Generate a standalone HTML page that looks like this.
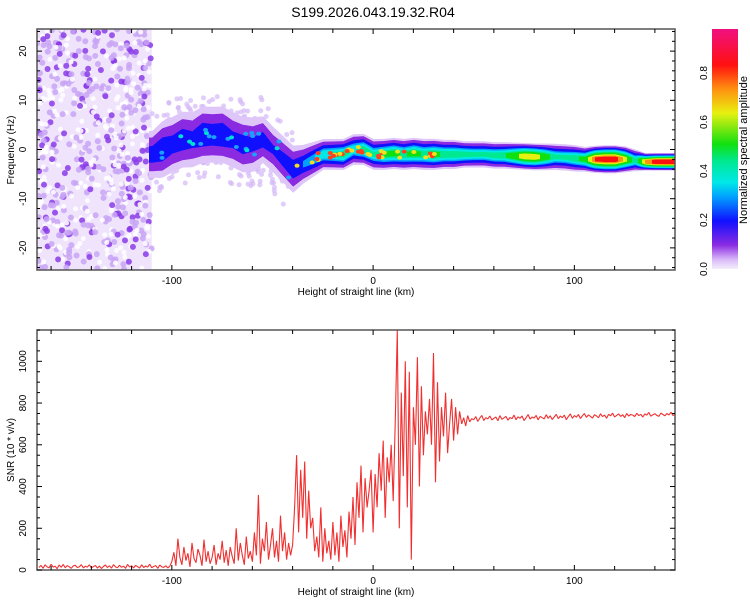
<!DOCTYPE html>
<html><head><meta charset="utf-8"><style>
body{margin:0;background:#fff;font-family:"Liberation Sans",sans-serif}
svg text{font-family:"Liberation Sans",sans-serif;fill:#000}
</style></head><body>
<svg id="c" width="750" height="600" xmlns="http://www.w3.org/2000/svg">
<text x="373" y="17" font-size="14" text-anchor="middle">S199.2026.043.19.32.R04</text>
<defs>
<linearGradient id="cb" x1="0" y1="1" x2="0" y2="0">
<stop offset="0" stop-color="#f4eefc"/><stop offset="0.04" stop-color="#d8b8f8"/>
<stop offset="0.1" stop-color="#8a2be2"/><stop offset="0.2" stop-color="#1010ff"/>
<stop offset="0.3" stop-color="#00a0ff"/><stop offset="0.36" stop-color="#00e8e8"/>
<stop offset="0.45" stop-color="#00e890"/><stop offset="0.52" stop-color="#10e010"/>
<stop offset="0.65" stop-color="#e8f010"/><stop offset="0.75" stop-color="#ff9010"/>
<stop offset="0.85" stop-color="#ff1010"/><stop offset="1" stop-color="#f01080"/>
</linearGradient>
<clipPath id="clipTop"><rect x="37" y="29" width="638" height="241"/></clipPath>
<clipPath id="clipBot"><rect x="37" y="330" width="638" height="240"/></clipPath>
</defs>
<g id="topPanel"></g>
<g id="botPanel"></g>
<g id="cbar">
<rect x="712" y="29" width="26" height="240" fill="url(#cb)"/>
<text transform="translate(747,150) rotate(-90)" font-size="11" text-anchor="middle">Normalized spectral amplitude</text>
</g>
</svg>
<script>
const NS="http://www.w3.org/2000/svg";
// ---- data ----
const ridgeKm=[-110,-105,-100,-95,-90,-85,-80,-75,-70,-65,-60,-55,-50,-45,-40,-35,-30,-25,-20,-15,-10,-5,0,5,10,15,20,25,30,35,40,45,50,55,60,65,70,75,80,85,90,95,100,105,110,115,120,125,130,135,140,145,150];
const ridgeFreq=[-1,0,1,2,2,3,3,3,2,1,1,2,0,-2,-4,-3,-2,-1,-1,-1,0,0,-1,-1,-0.8,-1,-0.8,-1,-1,-1,-1,-1,-1,-1,-1.2,-1.2,-1.3,-1.4,-1.5,-1.5,-1.5,-1.6,-1.8,-2,-2,-2,-2,-2,-2.2,-2.5,-2.5,-2.5,-2.5];
const ridgeAmp=[0.26,0.3,0.25,0.28,0.24,0.3,0.28,0.3,0.24,0.26,0.22,0.25,0.2,0.24,0.28,0.3,0.35,0.42,0.45,0.5,0.42,0.5,0.45,0.52,0.55,0.5,0.56,0.5,0.55,0.5,0.5,0.48,0.45,0.45,0.48,0.5,0.6,0.72,0.72,0.6,0.45,0.45,0.5,0.55,0.85,0.92,0.92,0.7,0.45,0.75,0.9,0.92,0.92];
const ridgeSpread=[5,6,6,6,6,6,6,6,6,6,6,5,5,5,5,4,3.5,3,3,3,3,3,3,3,3,3,3,3,3,2.8,2.8,2.5,2.5,2.5,2.5,2.5,2.5,2.5,2.5,2.5,2.5,2.5,2.5,2.3,2.5,2.6,2.6,2.4,2,1.5,1.5,1.5,1.5];
const snrStart=-166, snrStep=1;
const snrVals=[12,22,8,25,15,10,28,14,18,6,24,13,27,11,21,16,8,19,23,12,15,26,10,18,14,25,11,16,22,9,19,7,17,24,12,20,9,26,15,11,23,13,18,8,27,14,20,10,22,16,9,25,12,19,14,28,11,17,21,8,24,15,13,20,10,18,
40,85,20,150,60,25,110,45,80,15,130,55,35,100,70,20,145,40,90,30,60,120,25,80,50,140,35,95,20,110,65,30,200,45,130,70,25,160,55,90,
40,180,70,360,30,150,90,230,50,120,200,60,140,40,260,90,180,50,130,70,
120,300,550,180,480,250,520,150,380,200,
250,90,160,60,300,40,200,80,140,50,230,70,180,40,260,110,190,60,280,150,
350,120,420,250,500,180,440,300,380,480,
180,460,300,560,380,620,250,540,420,600,330,700,
1150,200,850,450,1000,300,950,50,780,600,1020,400,880,550,760,650,820,600,1040,420,900,520,780,640,850,560,700,820,620,780,650,760,700,730,690,740,710,725,
720,735,712,728,741,716,730,724,738,719,727,733,715,740,722,729,736,718,731,725,742,720,734,727,738,716,730,745,723,733,728,741,719,736,730,724,744,727,739,721,733,746,725,738,730,742,720,735,748,727,740,732,745,726,739,750,731,743,736,728,744,738,730,749,735,742,727,746,739,752,733,741,748,736,744,730,750,738,745,742,735,751,740,746,733,748,742,755,737,744,749,741,736,752,745,739,750,743,756,740,747];
const xTicks=[-100,0,100];
const freqTicks=[-20,-10,0,10,20];
const snrTicks=[0,200,400,600,800,1000];
const cbTicks=[0,0.2,0.4,0.6,0.8];
// ---- axes ----
const X0=37,X1=675,KM0=-167,KM1=150;
const xs=k=>X0+(k-KM0)/(KM1-KM0)*(X1-X0);
const TY0=29,TY1=270,F0=-24.5,F1=24.5;
const yf=f=>TY1-(f-F0)/(F1-F0)*(TY1-TY0);
const BY0=330,BY1=570,S1=1150;
const ys=v=>BY1-v/S1*(BY1-BY0);
const cby=v=>269-v*245;
function el(t,a,p){const e=document.createElementNS(NS,t);for(const k in a)e.setAttribute(k,a[k]);p.appendChild(e);return e;}
function cmap(v){const s=[[0,[244,238,252]],[0.04,[216,184,248]],[0.1,[138,43,226]],[0.2,[16,16,255]],[0.3,[0,160,255]],[0.36,[0,232,232]],[0.45,[0,232,144]],[0.52,[16,224,16]],[0.65,[232,240,16]],[0.75,[255,144,16]],[0.85,[255,16,16]],[1,[240,16,128]]];
for(let i=1;i<s.length;i++){if(v<=s[i][0]){const t=(v-s[i-1][0])/(s[i][0]-s[i-1][0]);const a=s[i-1][1],b=s[i][1];return`rgb(${a.map((x,j)=>Math.round(x+(b[j]-x)*t)).join(',')})`;}}return'rgb(240,16,128)';}
function interp(arr,k){if(k<=ridgeKm[0])return arr[0];for(let i=1;i<ridgeKm.length;i++){if(k<=ridgeKm[i]){const t=(k-ridgeKm[i-1])/(ridgeKm[i]-ridgeKm[i-1]);return arr[i-1]+(arr[i]-arr[i-1])*t;}}return arr[arr.length-1];}
const topG=document.getElementById('topPanel'),botG=document.getElementById('botPanel');
// spectrogram
const sg=el('g',{'clip-path':'url(#clipTop)'},topG);


// left noise region texture
el('rect',{x:X0,y:TY0,width:xs(-110)-X0,height:TY1-TY0,fill:'#efe4fc'},sg);
let h=7;
function nxt(){h=(h*16807)%2147483647;return h;}
for(let i=0;i<650;i++){const px=X0+(nxt()%1000)/1000*(xs(-110)-X0);const py=TY0+(nxt()%1000)/1000*(TY1-TY0);const q=nxt()%10;
el('circle',{cx:px,cy:py,r:q<2?3:(q<6?3:2.5),fill:q<2?'#8a3be8':(q<6?'#c8a4f4':'#ffffff'),opacity:0.85},sg);}
// middle scatter halo
for(let i=0;i<220;i++){const k=-110+(nxt()%1000)/1000*70;const f=interp(ridgeFreq,k)+((nxt()%1000)/1000-0.5)*18;
el('circle',{cx:xs(k),cy:yf(f),r:2.5,fill:'#d4b8f6',opacity:0.7},sg);}
const levels=[0.03,0.1,0.2,0.3,0.36,0.45,0.52,0.65,0.75,0.85,0.95];
for(let px=Math.floor(xs(-111));px<X1;px++){const k=KM0+(px-X0)/(X1-X0)*(KM1-KM0);
const f=interp(ridgeFreq,k),a=interp(ridgeAmp,k),sp=interp(ridgeSpread,k);
for(const l of levels){if(l>a)break;const hh=sp*Math.pow(1-l/(a+0.04),1.2)+0.35;
el('rect',{x:px,y:yf(f+hh),width:1.2,height:yf(f-hh)-yf(f+hh),fill:cmap(l)},sg);}}
// spots in the blobby region
for(let i=0;i<60;i++){const k=-108+(nxt()%1000)/1000*150;const f=interp(ridgeFreq,k)+((nxt()%1000)/1000-0.5)*(k<-40?6:1.5);const q=nxt()%3;
el('ellipse',{cx:xs(k),cy:yf(f),rx:2.5,ry:2,fill:k<-40?(q?'#1aa0ff':'#00e0d0'):(q?'#f0e020':'#ff4020')},sg);}
// top frame + ticks
el('rect',{x:X0,y:TY0,width:X1-X0,height:TY1-TY0,fill:'none',stroke:'#555','stroke-width':1.5},topG);
for(let k=-160;k<=150;k+=20){const big=k%100===0;el('line',{x1:xs(k),x2:xs(k),y1:TY1,y2:TY1-(big?5:4),stroke:'#000'},topG);el('line',{x1:xs(k),x2:xs(k),y1:TY0,y2:TY0+(big?5:4),stroke:'#000'},topG);}
for(let f=-24;f<=24;f+=2){const w=f%10===0?5:3;el('line',{x1:X0,x2:X0+w,y1:yf(f),y2:yf(f),stroke:'#000'},topG);el('line',{x1:X1,x2:X1-w,y1:yf(f),y2:yf(f),stroke:'#000'},topG);}
xTicks.forEach(k=>{const t=el('text',{x:xs(k),y:TY1+14,'font-size':10,'text-anchor':'middle'},topG);t.textContent=k;

});
freqTicks.forEach(f=>{const t=el('text',{transform:`translate(${X0-11},${yf(f)}) rotate(-90)`,'font-size':10,'text-anchor':'middle'},topG);t.textContent=f;

});
let t=el('text',{x:356,y:TY1+25,'font-size':10,'text-anchor':'middle'},topG);t.textContent='Height of straight line (km)';


t=el('text',{transform:`translate(14,150) rotate(-90)`,'font-size':10,'text-anchor':'middle'},topG);t.textContent='Frequency (Hz)';


// bottom snr
const lg=el('g',{'clip-path':'url(#clipBot)'},botG);
const pts=snrVals.map((v,i)=>xs(snrStart+i*snrStep).toFixed(1)+','+ys(v).toFixed(1)).join(' ');
const pl=el('polyline',{points:pts,fill:'none',stroke:'#f03030','stroke-width':1.1,'stroke-linejoin':'bevel'},lg);


el('rect',{x:X0,y:BY0,width:X1-X0,height:BY1-BY0,fill:'none',stroke:'#555','stroke-width':1.5},botG);
for(let k=-160;k<=150;k+=20){const big=k%100===0;el('line',{x1:xs(k),x2:xs(k),y1:BY1,y2:BY1-(big?5:4),stroke:'#000'},botG);el('line',{x1:xs(k),x2:xs(k),y1:BY0,y2:BY0+(big?5:4),stroke:'#000'},botG);}
for(let v=0;v<=1150;v+=50){const w=v%200===0?5:3;el('line',{x1:X0,x2:X0+w,y1:ys(v),y2:ys(v),stroke:'#000'},botG);el('line',{x1:X1,x2:X1-w,y1:ys(v),y2:ys(v),stroke:'#000'},botG);}
xTicks.forEach(k=>{const t=el('text',{x:xs(k),y:BY1+14,'font-size':10,'text-anchor':'middle'},botG);t.textContent=k;

});
snrTicks.forEach(v=>{const t=el('text',{transform:`translate(${X0-11},${ys(v)}) rotate(-90)`,'font-size':10,'text-anchor':'middle'},botG);t.textContent=v;

});
t=el('text',{x:356,y:BY1+25,'font-size':10,'text-anchor':'middle'},botG);t.textContent='Height of straight line (km)';


t=el('text',{transform:`translate(14,450) rotate(-90)`,'font-size':10,'text-anchor':'middle'},botG);t.textContent='SNR (10 * v/v)';


// colorbar ticks
const cb=document.getElementById('cbar');
cbTicks.forEach(v=>{const t=el('text',{transform:`translate(707,${cby(v)}) rotate(-90)`,'font-size':10,'text-anchor':'middle'},cb);t.textContent=v.toFixed(1);

});
</script>
</body></html>
